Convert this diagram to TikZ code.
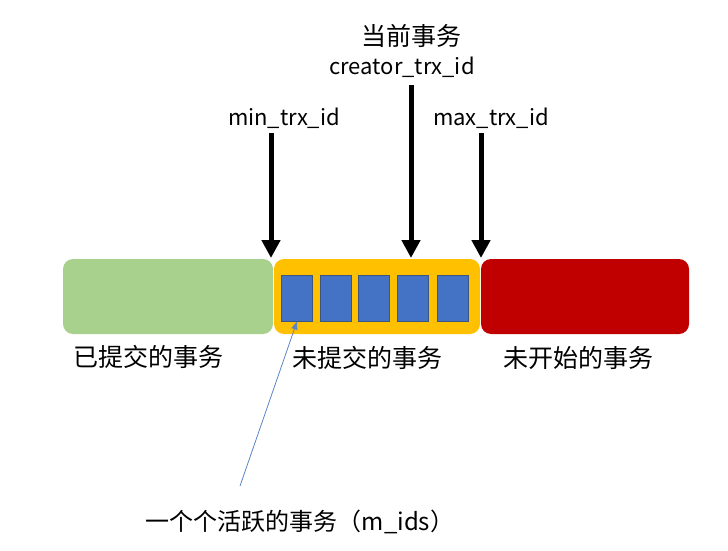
\documentclass[tikz,border=0pt]{standalone}
\usepackage{fontspec}
\setmainfont{Noto Sans CJK SC}
\usetikzlibrary{arrows.meta}
\definecolor{cgreen}{HTML}{A9D18E}
\definecolor{cyellow}{HTML}{FFC000}
\definecolor{cred}{HTML}{C00000}
\definecolor{cblue}{HTML}{4472C4}
\definecolor{cblueedge}{HTML}{3B5680}
\definecolor{cthin}{HTML}{5B84C8}
\tikzset{
  seg/.style={rounded corners=10pt, minimum height=75pt, inner sep=0pt, draw=none},
  act/.style={fill=cblue, draw=cblueedge, line width=1pt, minimum width=31pt, minimum height=46pt, inner sep=0pt},
  lbl/.style={font=\fontsize{22}{26}\selectfont, inner sep=0pt},
  cjk/.style={font=\fontsize{25}{29}\selectfont, inner sep=0pt},
  bigarrow/.style={line width=5pt, -{Triangle[width=18pt,length=18pt]}},
}
\begin{document}
\begin{tikzpicture}[x=1pt,y=-1pt]
\useasboundingbox (0,0) rectangle (728,551);
\node[seg, fill=cgreen, minimum width=210pt] (done) at (168,296.5) {};
\node[seg, fill=cyellow, minimum width=206pt] (open) at (377,296.5) {};
\node[seg, fill=cred, minimum width=208pt] (future) at (585,296.5) {};
\node[act] (a1) at (297,298) {};
\node[act] (a2) at (336,298) {};
\node[act] (a3) at (374,298) {};
\node[act] (a4) at (413,298) {};
\node[act] (a5) at (453,298) {};
\node[cjk] (cur) at (411,36) {当前事务};
\node[lbl] (creator) at (402,67) {creator\_trx\_id};
\node[lbl] (min) at (284,118) {min\_trx\_id};
\node[lbl] (max) at (491,118) {max\_trx\_id};
\node[cjk] (ldone) at (148,357) {已提交的事务};
\node[cjk] (lopen) at (367,358) {未提交的事务};
\node[cjk] (lfuture) at (578,358) {未开始的事务};
\node[cjk, font=\fontsize{24}{28}\selectfont] (lact) at (300,522) {一个个活跃的事务（m\_ids）};
\coordinate (minS) at (271,133);
\coordinate (minE) at (271,258);
\coordinate (crS) at (411,85);
\coordinate (crE) at (411,258);
\coordinate (maxS) at (481,133);
\coordinate (maxE) at (481,258);
\draw[bigarrow] (minS) -- (minE);
\draw[bigarrow] (crS) -- (crE);
\draw[bigarrow] (maxS) -- (maxE);
\coordinate (thinS) at (240,486);
\draw[cthin, line width=0.8pt, -{Triangle[width=6pt,length=8pt]}] (thinS) -- (a1.south);
\end{tikzpicture}
\end{document}
